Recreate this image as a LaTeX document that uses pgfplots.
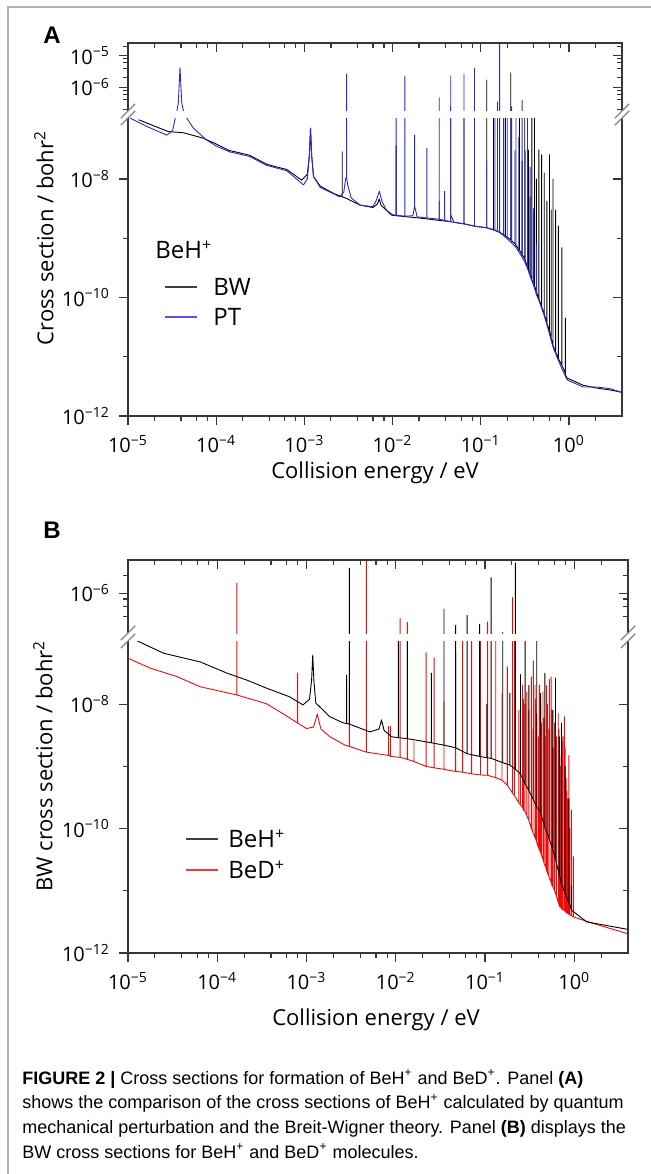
\documentclass[border=0pt]{standalone}
\usepackage{fontspec}
\setmainfont{Open Sans}
\newfontfamily\capfont{Liberation Sans}
\usepackage{pgfplots}
\usepackage{pgfplotstable}
\pgfplotsset{compat=1.18}

\definecolor{ptblue}{RGB}{40,40,225}
\definecolor{bered}{RGB}{240,10,10}
\definecolor{spine}{RGB}{55,55,55}
\definecolor{brk}{RGB}{130,130,130}

% panel A, BW (black)
\pgfplotstableread{
x y
1.32e-5 1.0e-7
2.09e-5 7.59e-8
2.88e-5 6.31e-8
4.27e-5 6.03e-8
7.08e-5 4.9e-8
1.0e-4 3.9e-8
1.41e-4 3.02e-8
1.78e-4 2.8e-8
2.4e-4 2.51e-8
3.72e-4 1.78e-8
4.8e-4 1.6e-8
6.31e-4 1.45e-8
9.33e-4 9.55e-9
1.08e-3 1.2e-8
1.14e-3 2.5e-8
1.175e-3 7.2e-8
1.21e-3 2.5e-8
1.27e-3 1.1e-8
1.51e-3 7.59e-9
2.2e-3 5.6e-9
2.69e-3 5.0e-9
2.69e-3 2.88e-8
2.69e-3 5.0e-9
3.0e-3 4.7e-9
4.27e-3 3.63e-9
6.0e-3 3.3e-9
6.76e-3 3.8e-9
7.08e-3 4.6e-9
7.41e-3 3.6e-9
9.77e-3 2.45e-9
1.1e-2 2.4e-9
1.1e-2 3.63e-8
1.1e-2 2.4e-9
2.04e-2 2.19e-9
3.39e-2 2.0e-9
3.39e-2 4.2e-9
3.39e-2 2.0e-9
4.57e-2 1.9e-9
4.57e-2 2.45e-7
4.57e-2 1.9e-9
6.46e-2 1.75e-9
6.46e-2 1.2e-7
6.46e-2 1.75e-9
8.51e-2 1.6e-9
8.51e-2 3.98e-6
8.51e-2 1.6e-9
0.117 1.5e-9
0.117 1.70e-6
0.117 1.5e-9
0.14 1.4e-9
0.14 1.2e-7
0.14 1.4e-9
0.166 1.25e-9
0.19 1.1e-9
0.19 1.2e-7
0.19 1.1e-9
0.219 9.4e-10
0.219 2.88e-6
0.219 9.4e-10
0.245 8.0e-10
0.245 3.0e-8
0.245 8.0e-10
0.275 6.3e-10
0.275 1.2e-7
0.275 6.3e-10
0.295 5.3e-10
0.295 2.0e-8
0.295 5.3e-10
0.316 4.5e-10
0.316 1.2e-7
0.316 4.5e-10
0.347 2.95e-10
0.347 3.09e-8
0.347 2.95e-10
0.363 2.45e-10
0.363 5.0e-9
0.363 2.45e-10
0.38 2.0e-10
0.38 1.2e-7
0.38 2.0e-10
0.407 1.55e-10
0.407 1.2e-7
0.407 1.55e-10
0.427 1.25e-10
0.427 1.0e-8
0.427 1.25e-10
0.457 9.5e-11
0.457 3.09e-8
0.457 9.5e-11
0.49 7.0e-11
0.49 2.57e-8
0.49 7.0e-11
0.525 5.3e-11
0.525 1.26e-8
0.525 5.3e-11
0.562 3.7e-11
0.562 4.17e-9
0.562 3.7e-11
0.603 2.7e-11
0.603 2.57e-8
0.603 2.7e-11
0.631 2.0e-11
0.631 3.0e-9
0.631 2.0e-11
0.661 1.55e-11
0.661 1.0e-8
0.661 1.55e-11
0.708 1.2e-11
0.708 3.0e-9
0.708 1.2e-11
0.759 9.3e-12
0.759 1.6e-9
0.759 9.3e-12
0.832 7.2e-12
0.832 6.9e-10
0.832 7.2e-12
0.912 5.3e-12
0.912 4.5e-11
0.912 5.0e-12
0.955 4.37e-12
1.445 3.31e-12
2.09 2.95e-12
2.95 2.75e-12
3.98 2.51e-12
}\Abw

% panel A, PT (blue)
\pgfplotstableread{
x y
1.05e-5 1.07e-7
1.62e-5 7.76e-8
2.75e-5 5.5e-8
3.2e-5 6.5e-8
3.5e-5 1.2e-7
3.72e-5 3.16e-7
3.89e-5 4.17e-6
4.07e-5 3.16e-7
4.4e-5 1.2e-7
5.5e-5 7.24e-8
7.76e-5 4.57e-8
1.0e-4 3.6e-8
1.41e-4 2.88e-8
2.4e-4 2.4e-8
3.72e-4 1.7e-8
6.31e-4 1.38e-8
9.77e-4 7.94e-9
1.08e-3 1.0e-8
1.14e-3 2.5e-8
1.175e-3 7.2e-8
1.21e-3 2.5e-8
1.27e-3 1.1e-8
1.51e-3 7.24e-9
2.51e-3 5.0e-9
2.8e-3 6.0e-9
2.95e-3 1.05e-8
3.02e-3 1.05e-8
3.02e-3 2.63e-6
3.02e-3 1.05e-8
3.1e-3 8.0e-9
3.4e-3 4.8e-9
4.27e-3 3.63e-9
6.0e-3 3.4e-9
6.6e-3 4.5e-9
7.08e-3 6.2e-9
7.6e-3 4.2e-9
8.5e-3 3.0e-9
1.0e-2 2.5e-9
1.1e-2 2.45e-9
1.1e-2 1.2e-7
1.1e-2 2.45e-9
1.38e-2 2.35e-9
1.38e-2 2.19e-6
1.38e-2 2.35e-9
1.7e-2 2.4e-9
1.78e-2 3.5e-9
1.78e-2 5.5e-8
1.78e-2 3.5e-9
1.9e-2 2.3e-9
2.45e-2 2.2e-9
2.45e-2 3.31e-8
2.45e-2 2.2e-9
3.39e-2 2.1e-9
3.39e-2 4.68e-7
3.39e-2 2.1e-9
3.89e-2 2.0e-9
3.89e-2 6.2e-9
3.89e-2 2.0e-9
4.57e-2 1.9e-9
4.57e-2 2.29e-6
4.57e-2 2.5e-9
5.0e-2 1.85e-9
6.46e-2 1.75e-9
6.46e-2 2.63e-6
6.46e-2 1.75e-9
8.51e-2 1.6e-9
8.51e-2 3.98e-6
8.51e-2 1.6e-9
0.117 1.5e-9
0.117 2.0e-8
0.117 1.5e-9
0.145 1.35e-9
0.145 1.2e-7
0.145 1.35e-9
0.155 1.3e-9
0.155 3.47e-7
0.155 1.3e-9
0.164 1.25e-9
0.164 3.0e-5
0.164 1.25e-9
0.182 1.1e-9
0.182 1.2e-7
0.182 1.1e-9
0.2 9.8e-10
0.2 1.2e-7
0.2 9.8e-10
0.224 8.4e-10
0.224 2.45e-7
0.224 8.4e-10
0.251 7.0e-10
0.251 1.2e-7
0.251 7.0e-10
0.27 5.9e-10
0.27 5.0e-8
0.27 5.9e-10
0.295 4.8e-10
0.295 3.8e-7
0.295 4.8e-10
0.32 3.8e-10
0.32 3.0e-8
0.32 3.8e-10
0.339 3.1e-10
0.339 1.2e-7
0.339 3.1e-10
0.363 2.3e-10
0.363 1.58e-8
0.363 2.3e-10
0.398 1.6e-10
0.398 3.16e-9
0.398 1.6e-10
0.43 1.1e-10
0.43 8.0e-10
0.43 1.1e-10
0.457 8.9e-11
0.513 5.5e-11
0.562 3.5e-11
0.661 1.45e-11
0.759 8.7e-12
0.832 6.3e-12
0.955 4.07e-12
1.445 3.09e-12
2.09 3.09e-12
2.95 2.88e-12
3.98 2.51e-12
}\Apt

% panel B, BeH+ (black)
\pgfplotstableread{
x y
1.26e-5 1.05e-7
2.51e-5 6.61e-8
6.46e-5 4.79e-8
1.29e-4 3.16e-8
2.14e-4 2.45e-8
3.55e-4 1.82e-8
6.46e-4 1.32e-8
9.12e-4 9.77e-9
1.08e-3 1.2e-8
1.14e-3 2.4e-8
1.175e-3 6.17e-8
1.21e-3 2.4e-8
1.27e-3 1.05e-8
1.82e-3 6.31e-9
2.6e-3 5.0e-9
2.82e-3 4.9e-9
2.82e-3 2.95e-8
2.82e-3 4.9e-9
3.02e-3 4.8e-9
3.02e-3 2.69e-6
3.02e-3 4.8e-9
5.13e-3 3.6e-9
6.5e-3 4.0e-9
6.92e-3 5.6e-9
7.4e-3 3.8e-9
9.0e-3 3.0e-9
1.07e-2 2.9e-9
1.07e-2 1.2e-7
1.07e-2 2.9e-9
1.35e-2 2.8e-9
1.35e-2 1.2e-7
1.35e-2 2.8e-9
2.51e-2 2.4e-9
2.51e-2 3.16e-8
2.51e-2 2.4e-9
3.47e-2 2.2e-9
3.47e-2 5.37e-7
3.47e-2 2.2e-9
4.68e-2 2.0e-9
4.68e-2 2.82e-7
4.68e-2 2.0e-9
6.31e-2 1.6e-9
6.31e-2 4.17e-7
6.31e-2 1.6e-9
8.71e-2 1.45e-9
8.71e-2 2.95e-7
8.71e-2 1.45e-9
0.105 1.38e-9
0.105 1.0e-8
0.105 1.38e-9
0.117 1.35e-9
0.117 1.86e-6
0.117 1.35e-9
0.158 1.15e-9
0.158 2.14e-7
0.158 1.15e-9
0.19 1.05e-9
0.19 1.5e-8
0.19 1.05e-9
0.219 9.0e-10
0.219 3.31e-6
0.219 9.0e-10
0.25 7.5e-10
0.25 3.0e-8
0.25 7.5e-10
0.282 5.2e-10
0.282 1.2e-7
0.282 5.2e-10
0.31 4.1e-10
0.31 2.0e-8
0.31 4.1e-10
0.347 2.95e-10
0.347 5.0e-8
0.347 2.95e-10
0.38 2.24e-10
0.38 1.2e-7
0.38 2.24e-10
0.42 1.8e-10
0.42 1.5e-8
0.42 1.8e-10
0.468 1.05e-10
0.468 3.16e-8
0.468 1.05e-10
0.525 6.8e-11
0.525 2.5e-8
0.525 6.8e-11
0.575 4.6e-11
0.575 8.0e-9
0.575 4.6e-11
0.617 3.2e-11
0.617 2.63e-8
0.617 3.2e-11
0.68 1.8e-11
0.68 3.0e-9
0.68 1.8e-11
0.72 1.3e-11
0.72 5.0e-9
0.72 1.3e-11
0.79 9.1e-12
0.79 1.0e-9
0.79 9.1e-12
0.87 6.5e-12
0.87 3.0e-10
0.87 6.5e-12
0.93 4.9e-12
0.93 1.2e-11
0.93 4.9e-12
1.38 3.16e-12
3.98 2.4e-12
}\Bh

% panel B, BeD+ (red)
\pgfplotstableread{
x y
1.0e-5 5.5e-8
1.78e-5 3.8e-8
3.5e-5 2.8e-8
6.46e-5 1.91e-8
1.66e-4 1.41e-8
1.66e-4 1.51e-6
1.66e-4 1.41e-8
3.55e-4 1.02e-8
5.5e-4 7.0e-9
7.94e-4 5.0e-9
7.94e-4 3.16e-8
7.94e-4 5.0e-9
1.0e-3 4.07e-9
1.2e-3 4.3e-9
1.32e-3 6.92e-9
1.45e-3 4.0e-9
1.82e-3 3.02e-9
2.7e-3 2.2e-9
3.02e-3 2.1e-9
3.02e-3 1.91e-8
3.02e-3 2.1e-9
4.68e-3 1.7e-9
4.68e-3 1.0e-5
4.68e-3 1.7e-9
8.3e-3 1.5e-9
8.3e-3 4.4e-9
8.3e-3 1.5e-9
8.7e-3 1.5e-9
8.7e-3 4.4e-9
8.7e-3 1.45e-9
1.12e-2 1.4e-9
1.12e-2 3.72e-7
1.12e-2 1.4e-9
1.35e-2 1.3e-9
1.35e-2 3.16e-7
1.35e-2 1.3e-9
1.6e-2 1.2e-9
1.6e-2 2.5e-9
1.6e-2 1.2e-9
2.19e-2 1.0e-9
2.19e-2 6.76e-8
2.19e-2 1.0e-9
2.69e-2 9.5e-10
2.69e-2 5.62e-8
2.69e-2 9.5e-10
3.47e-2 9.0e-10
3.47e-2 1.1e-8
3.47e-2 9.0e-10
4.68e-2 8.3e-10
4.68e-2 6.76e-8
4.68e-2 8.3e-10
5.62e-2 8.1e-10
5.62e-2 1.2e-7
5.62e-2 8.1e-10
7.08e-2 7.6e-10
7.08e-2 1.2e-7
7.08e-2 7.6e-10
8.91e-2 7.3e-10
8.91e-2 1.2e-7
8.91e-2 7.3e-10
0.107 7.2e-10
0.107 3.24e-7
0.107 7.2e-10
0.132 6.6e-10
0.132 1.2e-7
0.132 6.6e-10
0.155 6.0e-10
0.155 1.5e-8
0.155 6.0e-10
0.178 5.0e-10
0.178 4.0e-8
0.178 5.0e-10
0.204 3.7e-10
0.204 8.51e-7
0.204 3.7e-10
0.214 3.4e-10
0.214 1.2e-7
0.214 3.4e-10
0.24 2.6e-10
0.24 8.0e-9
0.24 2.6e-10
0.25 2.4e-10
0.25 6.0e-9
0.25 2.4e-10
0.263 2.2e-10
0.263 2.04e-8
0.263 2.2e-10
0.27 2.0e-10
0.27 1.2e-8
0.27 2.0e-10
0.28 1.9e-10
0.28 1.0e-8
0.28 1.9e-10
0.295 1.6e-10
0.295 1.58e-8
0.295 1.6e-10
0.31 1.35e-10
0.31 8.0e-9
0.31 1.35e-10
0.331 1.0e-10
0.331 2.75e-8
0.331 1.0e-10
0.345 8.7e-11
0.345 4.0e-9
0.345 8.7e-11
0.363 7.2e-11
0.363 2.04e-8
0.363 7.2e-11
0.37 6.8e-11
0.37 1.2e-8
0.37 6.8e-11
0.38 6.0e-11
0.38 7.0e-9
0.38 6.0e-11
0.395 5.1e-11
0.395 3.0e-9
0.395 5.1e-11
0.407 4.6e-11
0.407 2.04e-8
0.407 4.6e-11
0.42 4.1e-11
0.42 1.0e-8
0.42 4.1e-11
0.43 3.7e-11
0.43 5.0e-9
0.43 3.7e-11
0.447 3.2e-11
0.447 1.58e-8
0.447 3.2e-11
0.46 2.75e-11
0.46 6.0e-9
0.46 2.75e-11
0.48 2.4e-11
0.48 3.0e-9
0.48 2.4e-11
0.49 2.1e-11
0.49 2.0e-8
0.49 2.1e-11
0.501 1.95e-11
0.501 1.0e-8
0.501 1.95e-11
0.52 1.7e-11
0.52 4.0e-9
0.52 1.7e-11
0.55 1.38e-11
0.55 2.75e-8
0.55 1.38e-11
0.565 1.2e-11
0.565 8.0e-9
0.565 1.2e-11
0.58 1.15e-11
0.58 2.0e-9
0.58 1.15e-11
0.603 9.8e-12
0.603 5.0e-9
0.603 9.8e-12
0.63 8.3e-12
0.63 3.0e-9
0.63 8.3e-12
0.661 6.6e-12
0.661 7.08e-9
0.661 6.6e-12
0.675 6.0e-12
0.675 4.0e-9
0.675 6.0e-12
0.69 5.5e-12
0.69 1.0e-9
0.69 5.5e-12
0.71 5.4e-12
0.71 1.5e-9
0.71 5.4e-12
0.724 5.1e-12
0.724 2.5e-9
0.724 5.1e-12
0.745 5.0e-12
0.745 3.0e-9
0.745 5.0e-12
0.776 4.8e-12
0.776 6.31e-9
0.776 4.8e-12
0.79 4.7e-12
0.79 2.0e-9
0.79 4.7e-12
0.813 4.5e-12
0.813 6.46e-10
0.813 4.5e-12
0.83 4.4e-12
0.83 4.0e-10
0.83 4.4e-12
0.85 4.3e-12
0.85 3.0e-10
0.85 4.3e-12
0.87 4.2e-12
0.87 1.5e-9
0.87 4.2e-12
0.891 4.1e-12
0.891 1.0e-10
0.891 4.1e-12
0.93 4.0e-12
0.93 2.0e-10
0.93 4.0e-12
0.977 3.8e-12
0.977 3.55e-11
0.977 3.8e-12
1.62 3.0e-12
3.98 2.04e-12
}\Bd

\pgfplotsset{
  /pgfplots/brkaxis/.style={
    scale only axis,
    xmin=1e-5, xmax=4,
    axis line style={draw=none},
    tick style={color=spine, line width=0.6pt},
    major tick length=4.5pt, minor tick length=2.3pt,
    xtick={1e-5,1e-4,1e-3,1e-2,1e-1,1},
    minor xtick={2e-5,4e-5,6e-5,8e-5,2e-4,4e-4,6e-4,8e-4,2e-3,4e-3,6e-3,8e-3,
      2e-2,4e-2,6e-2,8e-2,0.2,0.4,0.6,0.8,2},
    xticklabels={10\textsuperscript{−5},10\textsuperscript{−4},10\textsuperscript{−3},
      10\textsuperscript{−2},10\textsuperscript{−1},10\textsuperscript{0}},
    tick label style={font=\fontsize{10}{12}\selectfont, text=black},
    xticklabel style={yshift=-1.5pt},
    yticklabel style={xshift=-1pt},
  },
  /pgfplots/lowyticks/.style={ytick={1e-12,1e-10,1e-8}, minor ytick={1e-11,1e-9},
    yticklabels={10\textsuperscript{−12},10\textsuperscript{−10},10\textsuperscript{−8}}},
  /pgfplots/insideticks/.style={tick align=inside, xticklabel={\relax}, yticklabel={\relax}},
  /pgfplots/lnbw/.style={black, line width=0.45pt, line join=round},
  /pgfplots/lnpt/.style={ptblue, line width=0.45pt, line join=round},
  /pgfplots/lnbd/.style={bered, line width=0.45pt, line join=round},
}

\begin{document}
\begin{tikzpicture}
\path[use as bounding box] (0,0) rectangle (325.5pt,587pt);
\draw[gray!60, line width=0.8pt] (4pt,0) -- (4pt,583.5pt) -- (325.5pt,583.5pt);

% ---------- panel A ----------
\begin{loglogaxis}[brkaxis, lowyticks, name=Alow, anchor=south west, at={(64pt,379pt)},
  width=247pt, height=149pt,
  ymin=1e-12, ymax=1.07e-7, tick align=outside, xtick pos=left, ytick pos=left]
\addplot[lnbw] table {\Abw};
\addplot[lnpt] table {\Apt};
\end{loglogaxis}
\begin{loglogaxis}[brkaxis, lowyticks, insideticks, anchor=south west, at={(64pt,379pt)},
  width=247pt, height=149pt,
  ymin=1e-12, ymax=1.07e-7, xtick=\empty, minor xtick={}, ytick pos=right]
\end{loglogaxis}
\begin{loglogaxis}[brkaxis, name=Aup, anchor=south west, at={(64pt,531.5pt)},
  width=247pt, height=34pt,
  ymin=1.78e-7, ymax=2.51e-5, tick align=outside, xtick=\empty, minor xtick={},
  ytick pos=left, ytick={1e-6,1e-5},
  minor ytick={2e-7,4e-7,6e-7,8e-7,2e-6,4e-6,6e-6,8e-6,2e-5},
  yticklabels={10\textsuperscript{−6},10\textsuperscript{−5}}]
\addplot[lnbw] table {\Abw};
\addplot[lnpt] table {\Apt};
\end{loglogaxis}
\begin{loglogaxis}[brkaxis, insideticks, anchor=south west, at={(64pt,531.5pt)},
  width=247pt, height=34pt,
  ymin=1.78e-7, ymax=2.51e-5, xtick pos=right, ytick pos=right, ytick={1e-6,1e-5},
  minor ytick={2e-7,4e-7,6e-7,8e-7,2e-6,4e-6,6e-6,8e-6,2e-5}]
\end{loglogaxis}
\draw[spine, line width=0.7pt] (Alow.north west) -- (Alow.south west) -- (Alow.south east) -- (Alow.north east);
\draw[spine, line width=0.7pt] (Aup.south west) -- (Aup.north west) -- (Aup.north east) -- (Aup.south east);
\foreach \p in {Alow.north west, Aup.south west, Alow.north east, Aup.south east}
  \draw[brk, line width=0.7pt] ([shift={(-3.6pt,-3.6pt)}]\p) -- ([shift={(3.6pt,3.6pt)}]\p);

\node[font=\capfont\bfseries\fontsize{12}{14}\selectfont] at (26pt,569.5pt) {A};
\node[rotate=90, font=\fontsize{11}{13}\selectfont] at (22pt,468pt) {Cross section / bohr\textsuperscript{2}};
\node[font=\fontsize{11}{13}\selectfont] at (187.5pt,350.5pt) {Collision energy / eV};
\node[anchor=west, font=\fontsize{12}{14}\selectfont, inner sep=0pt] at (77.5pt,462pt) {BeH\textsuperscript{+}};
\draw[black!75, line width=0.6pt] (82.5pt,443.5pt) -- (98.5pt,443.5pt);
\node[anchor=west, font=\fontsize{12}{14}\selectfont, inner sep=0pt] at (106.5pt,443.5pt) {BW};
\draw[ptblue!80, line width=0.6pt] (82.5pt,428.5pt) -- (98.5pt,428.5pt);
\node[anchor=west, font=\fontsize{12}{14}\selectfont, inner sep=0pt] at (106.5pt,428.5pt) {PT};

% ---------- panel B ----------
\begin{loglogaxis}[brkaxis, lowyticks, name=Blow, anchor=south west, at={(64pt,110.5pt)},
  width=250pt, height=156pt,
  ymin=1e-12, ymax=1.04e-7, tick align=outside, xtick pos=left, ytick pos=left]
\addplot[lnbd] table {\Bd};
\addplot[lnbw] table {\Bh};
\end{loglogaxis}
\begin{loglogaxis}[brkaxis, lowyticks, insideticks, anchor=south west, at={(64pt,110.5pt)},
  width=250pt, height=156pt,
  ymin=1e-12, ymax=1.04e-7, xtick=\empty, minor xtick={}, ytick pos=right]
\end{loglogaxis}
\begin{loglogaxis}[brkaxis, name=Bup, anchor=south west, at={(64pt,270.5pt)},
  width=250pt, height=36.5pt,
  ymin=2.09e-7, ymax=3.72e-6, tick align=outside, xtick=\empty, minor xtick={},
  ytick pos=left, ytick={1e-6}, minor ytick={4e-7,6e-7,8e-7,2e-6},
  yticklabels={10\textsuperscript{−6}}]
\addplot[lnbd] table {\Bd};
\addplot[lnbw] table {\Bh};
\end{loglogaxis}
\begin{loglogaxis}[brkaxis, insideticks, anchor=south west, at={(64pt,270.5pt)},
  width=250pt, height=36.5pt,
  ymin=2.09e-7, ymax=3.72e-6, xtick pos=right, ytick pos=right, ytick={1e-6},
  minor ytick={4e-7,6e-7,8e-7,2e-6}]
\end{loglogaxis}
\draw[spine, line width=0.7pt] (Blow.north west) -- (Blow.south west) -- (Blow.south east) -- (Blow.north east);
\draw[spine, line width=0.7pt] (Bup.south west) -- (Bup.north west) -- (Bup.north east) -- (Bup.south east);
\foreach \p in {Blow.north west, Bup.south west, Blow.north east, Bup.south east}
  \draw[brk, line width=0.7pt] ([shift={(-3.6pt,-3.6pt)}]\p) -- ([shift={(3.6pt,3.6pt)}]\p);

\node[font=\capfont\bfseries\fontsize{12}{14}\selectfont] at (26pt,322pt) {B};
\node[rotate=90, font=\fontsize{11}{13}\selectfont] at (21.5pt,204pt) {BW cross section / bohr\textsuperscript{2}};
\node[font=\fontsize{11}{13}\selectfont] at (188pt,77pt) {Collision energy / eV};
\draw[black!75, line width=0.6pt] (93pt,167.5pt) -- (109pt,167.5pt);
\node[anchor=west, font=\fontsize{12}{14}\selectfont, inner sep=0pt] at (114pt,167.5pt) {BeH\textsuperscript{+}};
\draw[bered!80, line width=0.6pt] (93pt,152pt) -- (109pt,152pt);
\node[anchor=west, font=\fontsize{12}{14}\selectfont, inner sep=0pt] at (114pt,152pt) {BeD\textsuperscript{+}};

% ---------- caption ----------
\begin{scope}[every node/.style={anchor=base west, inner sep=0pt, font=\capfont\fontsize{9}{11}\selectfont}]
\node at (11pt,45pt) {\textbf{FIGURE 2 |} Cross sections for formation of BeH\textsuperscript{+} and BeD\textsuperscript{+}. Panel \textbf{(A)}};
\node at (11pt,32.5pt) {shows the comparison of the cross sections of BeH\textsuperscript{+} calculated by quantum};
\node at (11pt,20pt) {mechanical perturbation and the Breit-Wigner theory. Panel \textbf{(B)} displays the};
\node at (11pt,8pt) {BW cross sections for BeH\textsuperscript{+} and BeD\textsuperscript{+} molecules.};
\end{scope}
\end{tikzpicture}
\end{document}
